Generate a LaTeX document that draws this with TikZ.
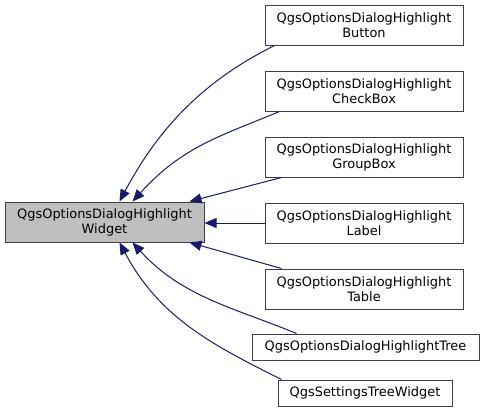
\documentclass[tikz,border=0pt]{standalone}
\usepackage{fontspec}
\setmainfont{DejaVu Sans}
\usetikzlibrary{arrows.meta,calc}
\definecolor{edgeblue}{RGB}{25,25,112}
\definecolor{boxgray}{RGB}{191,191,191}

\begin{document}
\begin{tikzpicture}[x=0.75pt, y=-0.75pt,
    cls/.style={draw=black!75, line width=0.75pt, fill=white, align=center, inner sep=0pt,
        minimum width=148.5pt, minimum height=30pt,
        font=\fontsize{9.7}{11.25}\selectfont},
    inherit/.style={draw=edgeblue, line width=0.75pt, {Triangle[length=9pt,width=7.5pt]}-}]
    \useasboundingbox (0,0) rectangle (483,415);

    % base class
    \node[cls, fill=boxgray, minimum width=149.25pt] (widget) at (104.5,222) {QgsOptionsDialogHighlight\\Widget};

    % derived classes
    \node[cls] (button) at (364,25) {QgsOptionsDialogHighlight\\Button};
    \node[cls] (checkbox) at (364,91) {QgsOptionsDialogHighlight\\CheckBox};
    \node[cls] (groupbox) at (364,157) {QgsOptionsDialogHighlight\\GroupBox};
    \node[cls] (label) at (364,223) {QgsOptionsDialogHighlight\\Label};
    \node[cls] (table) at (364,289) {QgsOptionsDialogHighlight\\Table};
    \node[cls, minimum width=170.25pt, minimum height=19.5pt] (tree) at (365.5,347) {QgsOptionsDialogHighlightTree};
    \node[cls, minimum width=130.5pt, minimum height=19.5pt] (settings) at (365,393) {QgsSettingsTreeWidget};

    % inheritance edges
    \draw[inherit] ($(widget.north west)+(115,0)$) .. controls +(40,-75) and +(-70,35) .. ($(button.south west)+(10,0)$);
    \draw[inherit] ($(widget.north west)+(128,0)$) .. controls +(50,-55) and +(-60,25) .. ($(checkbox.south west)+(15,0)$);
    \draw[inherit] ($(widget.north west)+(185,0)$) -- ($(groupbox.south west)+(17,0)$);
    \draw[inherit] (widget.east |- label) -- (label.west);
    \draw[inherit] ($(widget.south west)+(185,0)$) -- ($(table.north west)+(17,0)$);
    \draw[inherit] ($(widget.south west)+(128,0)$) .. controls +(50,55) and +(-60,-25) .. ($(tree.north west)+(45,0)$);
    \draw[inherit] ($(widget.south west)+(115,0)$) .. controls +(40,75) and +(-70,-35) .. ($(settings.north west)+(4,0)$);
\end{tikzpicture}
\end{document}
